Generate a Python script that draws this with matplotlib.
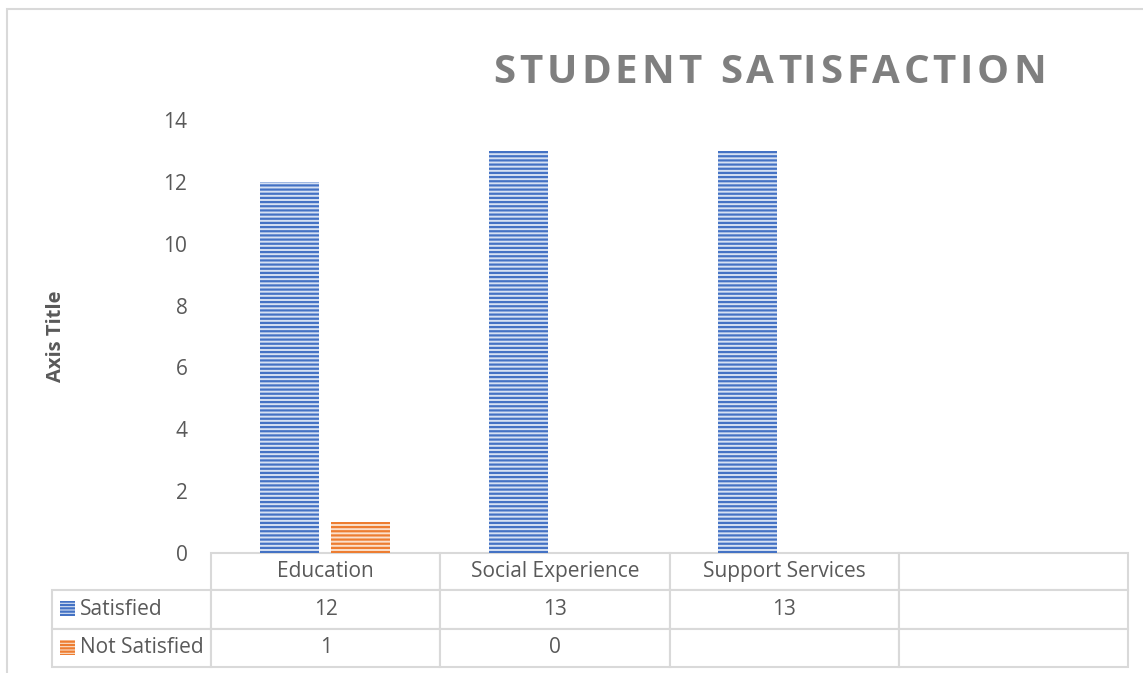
import matplotlib
matplotlib.use("Agg")
import matplotlib.pyplot as plt
from matplotlib.table import Table
from matplotlib.patches import Rectangle

plt.rcParams['font.family'] = ['Open Sans', 'DejaVu Sans']
plt.rcParams['hatch.linewidth'] = 1.6

categories = ["Education", "Social Experience", "Support Services", ""]
series_names = ["Satisfied", "Not Satisfied"]
satisfied = [12, 13, 13, None]
not_satisfied = [1, 0, None, None]
yticks = [0, 2, 4, 6, 8, 10, 12, 14]
title = "STUDENT SATISFACTION"

blue = "#4472C4"
blue_bg = "#d6e1f3"
orange = "#ED7D31"
orange_bg = "#fbe0cc"
text_col = "#595959"
grid_col = "#d9d9d9"

W, H = 1143, 673
fig = plt.figure(figsize=(W / 100, H / 100), dpi=100)

def fx(x):
    return x / W

def fy(y):
    return 1 - y / H

# chart border (only left and top inside the image)
fig.patches.append(Rectangle((fx(7), -0.2), 1.3, fy(9) + 0.2, fill=False,
                             edgecolor=grid_col, linewidth=1.5,
                             transform=fig.transFigure))

ax_left, ax_right, ax_top, ax_bot = 211, 1128, 120, 553
ax = fig.add_axes([fx(ax_left), fy(ax_bot), fx(ax_right - ax_left),
                   (ax_bot - ax_top) / H])
ax.set_xlim(-0.5, len(categories) - 0.5)
ax.set_ylim(0, 14)
for s in ax.spines.values():
    s.set_visible(False)
ax.set_xticks([])
ax.set_yticks(yticks)
ax.tick_params(axis='y', length=0, pad=17, labelsize=15, labelcolor=text_col)

bw = 0.257
series = [(satisfied, -0.159, blue, blue_bg), (not_satisfied, 0.154, orange, orange_bg)]
for vals, off, col, bg in series:
    xs = [i + off for i, v in enumerate(vals) if v is not None]
    hs = [v for v in vals if v is not None]
    ax.bar(xs, hs, width=bw, color=bg, edgecolor=col, linewidth=0, hatch='----')

ax.set_ylabel("Axis Title", fontsize=14.5, fontweight='bold', color=text_col,
              labelpad=0)
ax.yaxis.set_label_coords(-(211 - 66) / (ax_right - ax_left), 0.5)

# data table
ph = ax_bot - ax_top
tx0, tx1, ty1 = 52, 1128, 667
tbl = Table(ax, bbox=[(tx0 - ax_left) / (ax_right - ax_left),
                      -(ty1 - ax_bot) / ph,
                      (tx1 - tx0) / (ax_right - ax_left),
                      (ty1 - ax_bot) / ph])
lab_w = 211 - tx0
col_w = (tx1 - 211) / len(categories)
row_h = [37, 38, 38]
rows = [satisfied, not_satisfied]
tbl.add_cell(0, 0, lab_w, row_h[0], text="", loc='left').visible_edges = ''
for j, c in enumerate(categories):
    tbl.add_cell(0, j + 1, col_w, row_h[0], text=c, loc='center')
for i, (name, vals) in enumerate(zip(series_names, rows)):
    cell = tbl.add_cell(i + 1, 0, lab_w, row_h[i + 1], text=name, loc='left')
    cell.PAD = 0.175
    for j, v in enumerate(vals):
        tbl.add_cell(i + 1, j + 1, col_w, row_h[i + 1],
                     text="" if v is None else str(v), loc='center')
tbl.auto_set_font_size(False)
tbl.set_fontsize(15)
for cell in tbl.get_celld().values():
    cell.set_edgecolor(grid_col)
    cell.set_linewidth(1.5)
    cell.get_text().set_color(text_col)
ax.add_table(tbl)

# legend keys in the table
for (y0, col, bg) in [(601, blue, blue_bg), (640, orange, orange_bg)]:
    fig.patches.append(Rectangle((fx(60), fy(y0 + 15)), fx(15), 15 / H,
                                 facecolor=bg, edgecolor=col, linewidth=0,
                                 hatch='-----', transform=fig.transFigure))

# letter-spaced title
renderer = fig.canvas.get_renderer()
t_x0, t_x1, t_base = 493, 1046, 83
fs = 29
probe = fig.text(0, 0, title, fontsize=fs, fontweight='bold')
full_w = probe.get_window_extent(renderer).width
probe.remove()
spacing = (t_x1 - t_x0 - full_w) / (len(title) - 1)
for i, ch in enumerate(title):
    if i == 0:
        pre_w = 0
    else:
        p = fig.text(0, 0, title[:i] + "|", fontsize=fs, fontweight='bold')
        q = fig.text(0, 0, "|", fontsize=fs, fontweight='bold')
        pre_w = p.get_window_extent(renderer).width - q.get_window_extent(renderer).width
        p.remove()
        q.remove()
    fig.text(fx(t_x0 + pre_w + i * spacing), fy(t_base), ch, fontsize=fs,
             fontweight='bold', color="#7f7f7f", va='baseline', ha='left')

fig.savefig("out.png", dpi=100)
